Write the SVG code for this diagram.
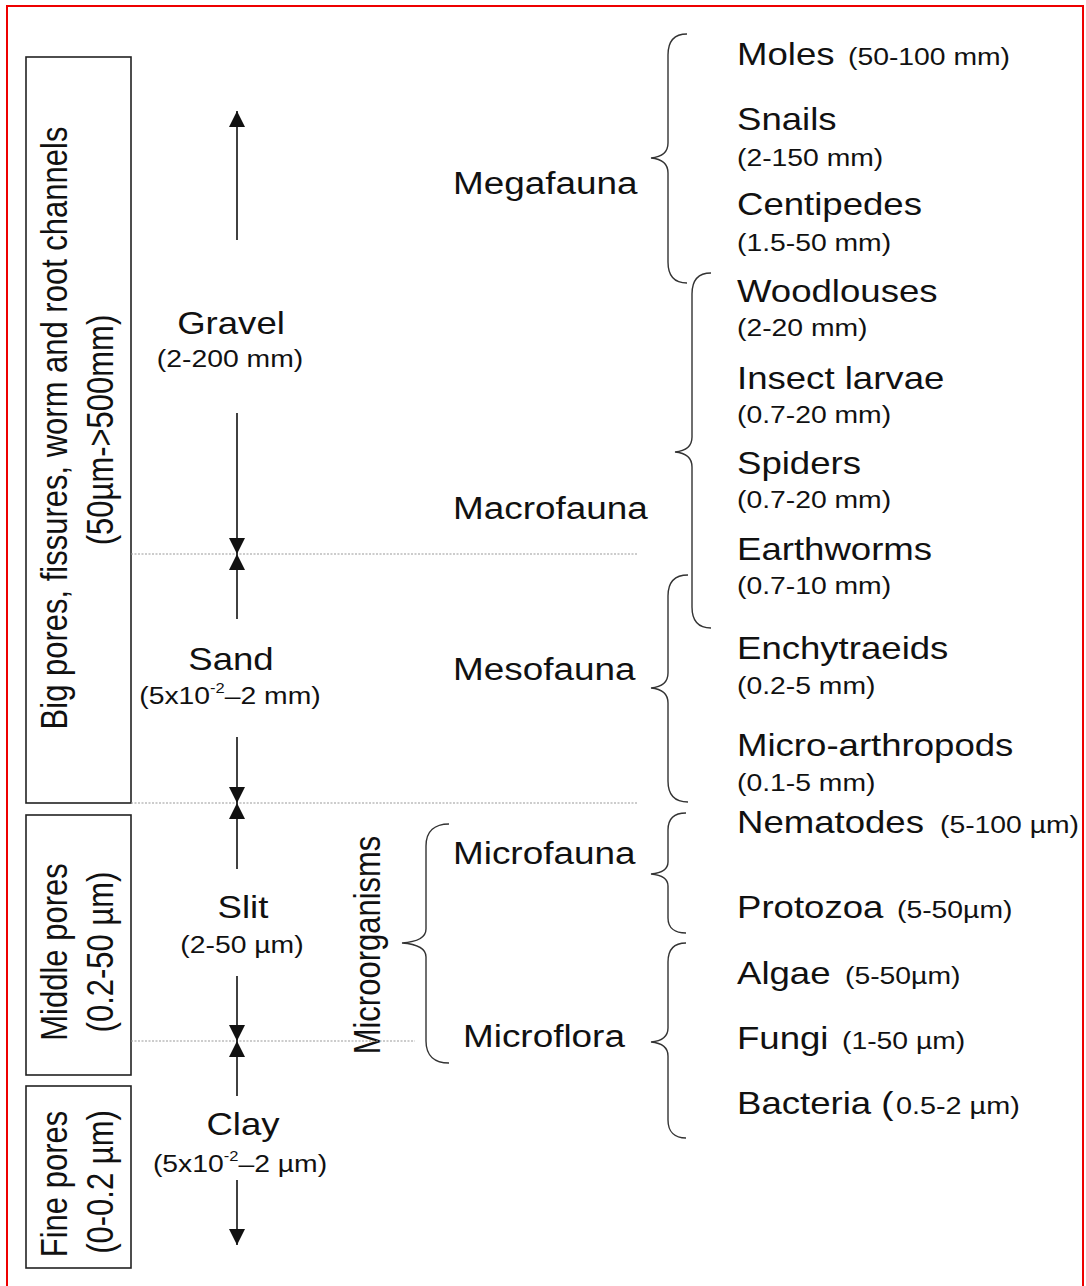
<svg xmlns="http://www.w3.org/2000/svg" width="1086" height="1286" viewBox="0 0 1086 1286">
<defs>
<style>
text{font-family:"Liberation Sans",Arial,Helvetica,sans-serif;fill:#111}
.b{font-size:31px}
.s{font-size:24px}
.m{text-anchor:middle}
.box{fill:none;stroke:#222;stroke-width:1.6}
.arr{stroke:#111;stroke-width:1.6;fill:none}
.dot{stroke:#999;stroke-width:1.2;stroke-dasharray:2 1.5;fill:none}
.br{stroke:#333;stroke-width:1.4;fill:none}
</style>
<marker id="ah" viewBox="0 0 10 10" refX="10" refY="5" markerWidth="16" markerHeight="16" markerUnits="userSpaceOnUse" orient="auto">
<path d="M0,0 L10,5 L0,10 Z" fill="#111"/>
</marker>
</defs>
<rect x="0" y="0" width="1086" height="1286" fill="#fff"/>
<rect x="7" y="6" width="1076" height="1300" fill="none" stroke="#e00" stroke-width="2"/>

<g id="box-big">
<rect class="box" x="26" y="57" width="105" height="746"/>
<text class="b m" font-size="30.5" transform="translate(67,428) scale(1.18,1) rotate(-90)">Big pores, fissures, worm and root channels</text>
<text class="b m" transform="translate(113,430) scale(1.18,1) rotate(-90)">(50µm-&gt;500mm)</text>
</g>
<g id="box-middle">
<rect class="box" x="26" y="815" width="105" height="260"/>
<text class="b m" transform="translate(67,952) scale(1.18,1) rotate(-90)">Middle pores</text>
<text class="b m" transform="translate(113,952) scale(1.18,1) rotate(-90)">(0.2-50 µm)</text>
</g>
<g id="box-fine">
<rect class="box" x="26" y="1086" width="105" height="182"/>
<text class="b m" transform="translate(67,1184) scale(1.18,1) rotate(-90)">Fine pores</text>
<text class="b m" transform="translate(113,1182) scale(1.18,1) rotate(-90)">(0-0.2 µm)</text>
</g>

<g id="gravel">
<text class="b m" transform="translate(231,334) scale(1.18,1)">Gravel</text>
<text class="s m" transform="translate(230,367) scale(1.18,1)">(2-200 mm)</text>
</g>
<g id="sand">
<text class="b m" transform="translate(231,670) scale(1.18,1)">Sand</text>
<text class="s m" transform="translate(230,704) scale(1.18,1)">(5x10<tspan dy="-11" font-size="14">-2</tspan><tspan dy="11">–2 mm)</tspan></text>
</g>
<g id="slit">
<text class="b m" transform="translate(243,918) scale(1.18,1)">Slit</text>
<text class="s m" transform="translate(242,953) scale(1.18,1)">(2-50 µm)</text>
</g>
<g id="clay">
<text class="b m" transform="translate(243,1135) scale(1.18,1)">Clay</text>
<text class="s m" transform="translate(240,1172) scale(1.18,1)">(5x10<tspan dy="-11" font-size="14">-2</tspan><tspan dy="11">–2 µm)</tspan></text>
</g>

<g id="microorganisms">
<text class="b m" transform="translate(380,945) scale(1.18,1) rotate(-90)">Microorganisms</text>
</g>
<g id="megafauna"><text class="b" transform="translate(453,194) scale(1.19,1)">Megafauna</text></g>
<g id="macrofauna"><text class="b" transform="translate(453,519) scale(1.19,1)">Macrofauna</text></g>
<g id="mesofauna"><text class="b" transform="translate(453,680) scale(1.19,1)">Mesofauna</text></g>
<g id="microfauna"><text class="b" transform="translate(453,864) scale(1.19,1)">Microfauna</text></g>
<g id="microflora"><text class="b" transform="translate(463,1047) scale(1.19,1)">Microflora</text></g>

<g id="moles"><text class="b" transform="translate(737,65) scale(1.18,1)">Moles</text><text class="s" transform="translate(848,65) scale(1.18,1)">(50-100 mm)</text></g>
<g id="snails"><text class="b" transform="translate(737,130) scale(1.18,1)">Snails</text><text class="s" transform="translate(737,166) scale(1.18,1)">(2-150 mm)</text></g>
<g id="centipedes"><text class="b" transform="translate(737,215) scale(1.18,1)">Centipedes</text><text class="s" transform="translate(737,251) scale(1.18,1)">(1.5-50 mm)</text></g>
<g id="woodlouses"><text class="b" transform="translate(737,302) scale(1.18,1)">Woodlouses</text><text class="s" transform="translate(737,336) scale(1.18,1)">(2-20 mm)</text></g>
<g id="insect-larvae"><text class="b" transform="translate(737,389) scale(1.18,1)">Insect larvae</text><text class="s" transform="translate(737,423) scale(1.18,1)">(0.7-20 mm)</text></g>
<g id="spiders"><text class="b" transform="translate(737,474) scale(1.18,1)">Spiders</text><text class="s" transform="translate(737,508) scale(1.18,1)">(0.7-20 mm)</text></g>
<g id="earthworms"><text class="b" transform="translate(737,560) scale(1.18,1)">Earthworms</text><text class="s" transform="translate(737,594) scale(1.18,1)">(0.7-10 mm)</text></g>
<g id="enchytraeids"><text class="b" transform="translate(737,659) scale(1.18,1)">Enchytraeids</text><text class="s" transform="translate(737,694) scale(1.18,1)">(0.2-5 mm)</text></g>
<g id="micro-arthropods"><text class="b" transform="translate(737,756) scale(1.18,1)">Micro-arthropods</text><text class="s" transform="translate(737,791) scale(1.18,1)">(0.1-5 mm)</text></g>
<g id="nematodes"><text class="b" transform="translate(737,833) scale(1.18,1)">Nematodes</text><text class="s" transform="translate(940,833) scale(1.18,1)">(5-100 µm)</text></g>
<g id="protozoa"><text class="b" transform="translate(737,918) scale(1.18,1)">Protozoa</text><text class="s" transform="translate(897,918) scale(1.18,1)">(5-50µm)</text></g>
<g id="algae"><text class="b" transform="translate(737,984) scale(1.18,1)">Algae</text><text class="s" transform="translate(845,984) scale(1.18,1)">(5-50µm)</text></g>
<g id="fungi"><text class="b" transform="translate(737,1049) scale(1.18,1)">Fungi</text><text class="s" transform="translate(842,1049) scale(1.18,1)">(1-50 µm)</text></g>
<g id="bacteria"><text class="b" transform="translate(737,1114) scale(1.18,1)">Bacteria (</text><text class="s" transform="translate(896,1114) scale(1.2,1)">0.5-2 µm)</text></g>

<g id="connectors">
<line class="dot" x1="131" y1="554" x2="638" y2="554"/>
<line class="dot" x1="131" y1="803" x2="638" y2="803"/>
<line class="dot" x1="131" y1="1041" x2="415" y2="1041"/>
<line class="arr" x1="237" y1="240" x2="237" y2="111" marker-end="url(#ah)"/>
<line class="arr" x1="237" y1="413" x2="237" y2="554" marker-end="url(#ah)"/>
<line class="arr" x1="237" y1="619" x2="237" y2="554" marker-end="url(#ah)"/>
<line class="arr" x1="237" y1="737" x2="237" y2="803" marker-end="url(#ah)"/>
<line class="arr" x1="237" y1="869" x2="237" y2="803" marker-end="url(#ah)"/>
<line class="arr" x1="237" y1="976" x2="237" y2="1041" marker-end="url(#ah)"/>
<line class="arr" x1="237" y1="1096" x2="237" y2="1041" marker-end="url(#ah)"/>
<line class="arr" x1="237" y1="1180" x2="237" y2="1245" marker-end="url(#ah)"/>
<path class="br" d="M687,34 C675,34 668,40 668,55 L668,143 C668,152 662,157 651,158 C662,159 668,164 668,173 L668,262 C668,277 675,283 687,283"/>
<path class="br" d="M711,273 C699,273 692,279 692,294 L692,437 C692,446 686,451 675,452 C686,453 692,458 692,467 L692,607 C692,622 699,628 711,628"/>
<path class="br" d="M688,575 C676,575 668,581 668,596 L668,673 C668,682 662,687 651,688 C662,689 668,694 668,703 L668,781 C668,796 676,802 688,802"/>
<path class="br" d="M686,813 C675,813 668,818 668,830 L668,862 C668,869 662,873 651,874 C662,875 668,879 668,886 L668,918 C668,928 675,933 686,933"/>
<path class="br" d="M686,943 C675,943 668,949 668,962 L668,1028 C668,1036 662,1041 651,1042 C662,1043 668,1048 668,1056 L668,1120 C668,1132 675,1138 686,1138"/>
<path class="br" d="M449,824 C435,824 426,831 426,846 L426,929 C426,938 416,942 402,943 C416,944 426,948 426,957 L426,1041 C426,1056 435,1063 449,1063"/>
</g>
</svg>
